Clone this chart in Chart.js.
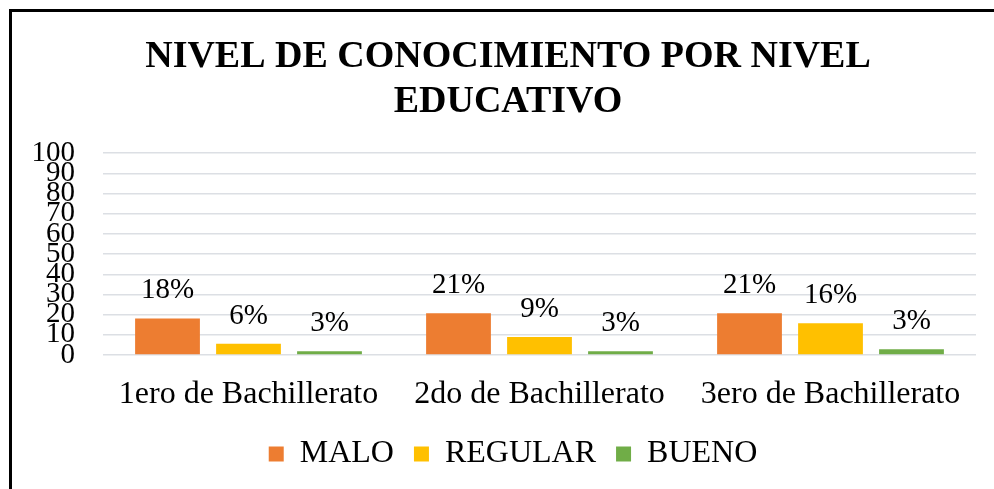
<!DOCTYPE html>
<html>
<head>
<meta charset="utf-8">
<script src="https://cdn.jsdelivr.net/npm/chart.js@4/dist/chart.umd.min.js"></script>
<style>
  html, body { margin: 0; padding: 0; background: #fff; }
  #wrap { position: relative; width: 994px; height: 489px; overflow: hidden; }
  #frame { position: absolute; left: 9px; top: 9px; width: 1100px; height: 600px;
           border-left: 3px solid #000; border-top: 3px solid #000; }
  canvas { position: absolute; left: 0; top: 0; }
</style>
</head>
<body>
<div id="wrap">
  <div id="frame"></div>
  <canvas id="chart" width="994" height="489"></canvas>
</div>
<script>
// data
const categories = ['1ero de Bachillerato', '2do de Bachillerato', '3ero de Bachillerato'];
const seriesNames = ['MALO', 'REGULAR', 'BUENO'];
const malo = [18.1, 20.7, 20.7];
const regular = [5.6, 8.9, 15.7];
const bueno = [1.9, 1.9, 2.8];
const maloLabels = ['18%', '21%', '21%'];
const regularLabels = ['6%', '9%', '16%'];
const buenoLabels = ['3%', '3%', '3%'];
const yTicks = [0, 10, 20, 30, 40, 50, 60, 70, 80, 90, 100];

const colors = ['#ED7D31', '#FFC000', '#70AD47'];
const serif = '"Liberation Serif", "Times New Roman", serif';

// draws the % text above each bar
const barLabels = {
    id: 'barLabels',
    afterDatasetsDraw(chart) {
        const ctx = chart.ctx;
        ctx.save();
        ctx.font = '29px ' + serif;
        ctx.fillStyle = '#000';
        ctx.textAlign = 'center';
        ctx.textBaseline = 'alphabetic';
        chart.data.datasets.forEach((ds, i) => {
            chart.getDatasetMeta(i).data.forEach((bar, j) => {
                ctx.fillText(ds.labelText[j], bar.x, bar.y - 20);
            });
        });
        ctx.restore();
    }
};

// title and legend sit a bit right of the canvas centre in the original
const nudge = {
    id: 'nudge',
    afterLayout(chart) {
        chart.titleBlock.left += 20;
        chart.titleBlock.right += 20;
        chart.legend.left += 25;
        chart.legend.right += 25;
    }
};

const ctx = document.getElementById('chart').getContext('2d');
new Chart(ctx, {
    type: 'bar',
    data: {
        labels: categories,
        datasets: [
            { label: seriesNames[0], data: malo, labelText: maloLabels, backgroundColor: colors[0] },
            { label: seriesNames[1], data: regular, labelText: regularLabels, backgroundColor: colors[1] },
            { label: seriesNames[2], data: bueno, labelText: buenoLabels, backgroundColor: colors[2] },
        ],
    },
    options: {
        responsive: false,
        animation: false,
        devicePixelRatio: 1,
        categoryPercentage: 0.835,
        barPercentage: 0.8,
        layout: { padding: { left: 0, right: 18, top: 34, bottom: 9 } },
        plugins: {
            title: {
                display: true,
                text: ['NIVEL DE CONOCIMIENTO POR NIVEL', 'EDUCATIVO'],
                color: '#000',
                font: { family: serif, size: 38, weight: 'bold', lineHeight: 1.2 },
                padding: { top: 0, bottom: 28 },
            },
            legend: {
                position: 'bottom',
                labels: {
                    color: '#000',
                    boxWidth: 15,
                    boxHeight: 15,
                    padding: 20,
                    font: { family: serif, size: 32 },
                },
            },
            tooltip: { enabled: false },
        },
        scales: {
            x: {
                afterFit: axis => { axis.height = 63; },
                grid: { display: false, drawTicks: false },
                border: { display: false },
                ticks: { color: '#000', padding: 20, font: { family: serif, size: 32 } },
            },
            y: {
                min: 0,
                max: 100,
                afterBuildTicks: axis => { axis.ticks = yTicks.map(v => ({ value: v })); },
                afterFit: axis => { axis.width = 103; },
                grid: { color: '#dcdfe4', lineWidth: 1.5, drawTicks: false },
                border: { display: false },
                ticks: { color: '#000', padding: 28, autoSkip: false, font: { family: serif, size: 29 } },
            },
        },
    },
    plugins: [barLabels, nudge],
});
</script>
</body>
</html>
